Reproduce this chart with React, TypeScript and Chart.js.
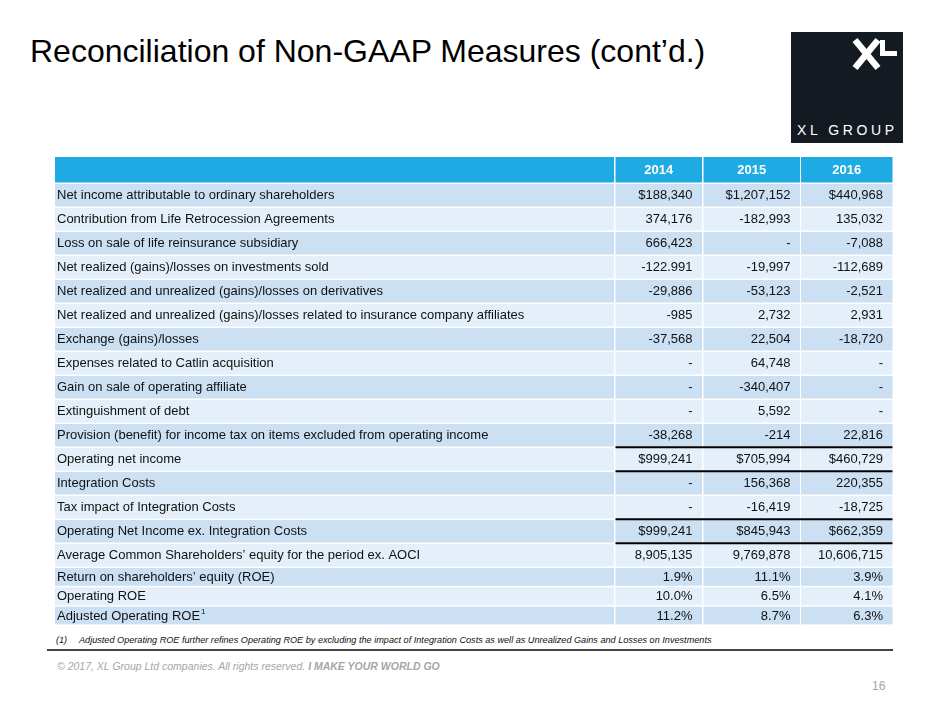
import React, { useEffect, useRef } from "react";
import { Chart, registerables } from "chart.js";

Chart.register(...registerables);

const years = ["2014", "2015", "2016"];

const rowLabels = [
  "Net income attributable to ordinary shareholders",
  "Contribution from Life Retrocession Agreements",
  "Loss on sale of life reinsurance subsidiary",
  "Net realized (gains)/losses on investments sold",
  "Net realized and unrealized (gains)/losses on derivatives",
  "Net realized and unrealized (gains)/losses related to insurance company affiliates",
  "Exchange (gains)/losses",
  "Expenses related to Catlin acquisition",
  "Gain on sale of operating affiliate",
  "Extinguishment of debt",
  "Provision (benefit) for income tax on items excluded from operating income",
  "Operating net income",
  "Integration Costs",
  "Tax impact of Integration Costs",
  "Operating Net Income ex. Integration Costs",
  "Average Common Shareholders\u2019 equity for the period ex. AOCI",
  "Return on shareholders\u2019 equity (ROE)",
  "Operating ROE",
  "Adjusted Operating ROE",
];

const values2014 = [
  "$188,340", "374,176", "666,423", "-122.991", "-29,886", "-985", "-37,568",
  "-", "-", "-", "-38,268", "$999,241", "-", "-", "$999,241", "8,905,135",
  "1.9%", "10.0%", "11.2%",
];
const values2015 = [
  "$1,207,152", "-182,993", "-", "-19,997", "-53,123", "2,732", "22,504",
  "64,748", "-340,407", "5,592", "-214", "$705,994", "156,368", "-16,419",
  "$845,943", "9,769,878", "11.1%", "6.5%", "8.7%",
];
const values2016 = [
  "$440,968", "135,032", "-7,088", "-112,689", "-2,521", "2,931", "-18,720",
  "-", "-", "-", "22,816", "$460,729", "220,355", "-18,725", "$662,359",
  "10,606,715", "3.9%", "4.1%", "6.3%",
];

const footnoteRows = [18];
const ruleAboveRows = [11, 12, 14, 15];

const FONT = '"Liberation Sans", Arial, Helvetica, sans-serif';

// layout (table units = px inside the canvas)
const TABLE_W = 838;
const TABLE_H = 470;
const colStarts = [0, 560.5, 648.5, 746];
const colEnds = [559, 647, 745, 837.5];
const HEADER_TOP = 0;
const HEADER_BOTTOM = 25.5;
const FIRST_ROW_TOP = 27;
const ROW_PITCH = 24;
const SHORT_PITCH = 19.3;
const GAP = 1.5;

function rowTop(i: number) {
  if (i < 16) return FIRST_ROW_TOP + ROW_PITCH * i;
  return FIRST_ROW_TOP + ROW_PITCH * 16 + SHORT_PITCH * (i - 16);
}
function rowBottom(i: number) {
  const pitch = i < 16 ? ROW_PITCH : SHORT_PITCH;
  return rowTop(i) + pitch - GAP;
}

const tablePlugin = {
  id: "tableCells",
  afterDraw(chart: any) {
    const { ctx } = chart;
    const x = chart.scales.x;
    const y = chart.scales.y;
    const px = (v: number) => x.getPixelForValue(v);
    const py = (v: number) => y.getPixelForValue(v);
    const columns = [rowLabels, values2014, values2015, values2016];
    ctx.save();

    // header
    for (let c = 0; c < 4; c++) {
      const x0 = px(colStarts[c]);
      const x1 = px(colEnds[c]);
      const y0 = py(HEADER_TOP);
      const y1 = py(HEADER_BOTTOM);
      ctx.fillStyle = "#1eabe3";
      ctx.fillRect(x0, y0, x1 - x0, y1 - y0);
      if (c > 0) {
        ctx.fillStyle = "#ffffff";
        ctx.font = "bold 13px " + FONT;
        ctx.textAlign = "center";
        ctx.textBaseline = "middle";
        ctx.fillText(years[c - 1], (x0 + x1) / 2, (y0 + y1) / 2 + 0.5);
      }
    }

    // body rows
    for (let r = 0; r < rowLabels.length; r++) {
      const y0 = py(rowTop(r));
      const y1 = py(rowBottom(r));
      const bg = r % 2 === 0 ? "#cbe0f3" : "#e4eff9";
      for (let c = 0; c < 4; c++) {
        const x0 = px(colStarts[c]);
        const x1 = px(colEnds[c]);
        ctx.fillStyle = bg;
        ctx.fillRect(x0, y0, x1 - x0, y1 - y0);
        const text = columns[c][r];
        ctx.fillStyle = "#111111";
        ctx.font = "13px " + FONT;
        ctx.textBaseline = "middle";
        const cy = (y0 + y1) / 2 + 0.5;
        if (c === 0) {
          ctx.textAlign = "left";
          ctx.fillText(text, x0 + 2, cy);
          if (footnoteRows.includes(r)) {
            const w = ctx.measureText(text).width;
            ctx.font = "8px " + FONT;
            ctx.fillText("1", x0 + 2 + w + 1, cy - 4);
          }
        } else {
          ctx.textAlign = "right";
          ctx.fillText(text, x1 - 9.5, cy);
        }
      }
    }

    // black rules
    ctx.fillStyle = "#000000";
    for (const r of ruleAboveRows) {
      const yy = py(rowTop(r) - GAP / 2);
      const x0 = px(colStarts[1]);
      const x1 = px(colEnds[3]);
      ctx.fillRect(x0, yy - 1, x1 - x0, 2);
    }
    ctx.restore();
  },
};

function TableChart() {
  const ref = useRef<HTMLCanvasElement | null>(null);
  useEffect(() => {
    if (!ref.current) return;
    const chart = new Chart(ref.current, {
      type: "scatter",
      data: { labels: rowLabels, datasets: [] },
      options: {
        responsive: false,
        animation: false,
        devicePixelRatio: 1,
        layout: { padding: 0 },
        plugins: { legend: { display: false }, tooltip: { enabled: false } },
        scales: {
          x: { type: "linear", display: false, offset: false, min: 0, max: TABLE_W },
          y: { type: "linear", display: false, offset: false, min: 0, max: TABLE_H, reverse: true },
        },
      },
      plugins: [tablePlugin],
    } as any);
    return () => chart.destroy();
  }, []);
  return (
    <canvas
      ref={ref}
      width={TABLE_W}
      height={TABLE_H}
      style={{ position: "absolute", left: 55, top: 157, width: TABLE_W, height: TABLE_H }}
    />
  );
}

export default function App() {
  return (
    <div
      style={{
        position: "absolute",
        left: 0,
        top: 0,
        width: 940,
        height: 705,
        background: "#ffffff",
        fontFamily: FONT,
        overflow: "hidden",
      }}
    >
      <div
        style={{
          position: "absolute",
          left: 30,
          top: 29,
          fontSize: 32,
          lineHeight: "44px",
          color: "#000",
          whiteSpace: "nowrap",
        }}
      >
        Reconciliation of Non-GAAP Measures (cont’d.)
      </div>

      <div
        style={{
          position: "absolute",
          left: 791,
          top: 32,
          width: 112,
          height: 111,
          background: "#141a22",
        }}
      >
        <svg width="112" height="111" style={{ position: "absolute", left: 0, top: 0 }}>
          <line x1="64" y1="8" x2="87" y2="36" stroke="#fff" strokeWidth="6.5" />
          <line x1="87" y1="8" x2="64" y2="36" stroke="#fff" strokeWidth="6.5" />
          <rect x="89" y="8" width="5" height="16" fill="#fff" />
          <rect x="89" y="19" width="17" height="5" fill="#fff" />
        </svg>
        <div
          style={{
            position: "absolute",
            left: 6,
            top: 90,
            width: 106,
            fontSize: 14,
            letterSpacing: 3.6,
            color: "#fff",
            whiteSpace: "nowrap",
          }}
        >
          XL GROUP
        </div>
      </div>

      <TableChart />

      <div
        style={{
          position: "absolute",
          left: 56,
          top: 635,
          fontSize: 9.15,
          fontStyle: "italic",
          color: "#111",
          whiteSpace: "nowrap",
        }}
      >
        <span style={{ display: "inline-block", width: 23 }}>(1)</span>
        Adjusted Operating ROE further refines Operating ROE by excluding the impact of Integration Costs as well as Unrealized Gains and Losses on Investments
      </div>
      <div
        style={{
          position: "absolute",
          left: 47,
          top: 649,
          width: 846,
          height: 2,
          background: "#444",
        }}
      />
      <div
        style={{
          position: "absolute",
          left: 57,
          top: 660,
          fontSize: 10.5,
          fontStyle: "italic",
          color: "#a6a6a6",
          whiteSpace: "nowrap",
        }}
      >
        © 2017, XL Group Ltd companies. All rights reserved.{" "}
        <span style={{ fontWeight: "bold" }}>I MAKE YOUR WORLD GO</span>
      </div>
      <div
        style={{
          position: "absolute",
          left: 872,
          top: 679,
          fontSize: 12,
          color: "#a6a6a6",
        }}
      >
        16
      </div>
    </div>
  );
}
